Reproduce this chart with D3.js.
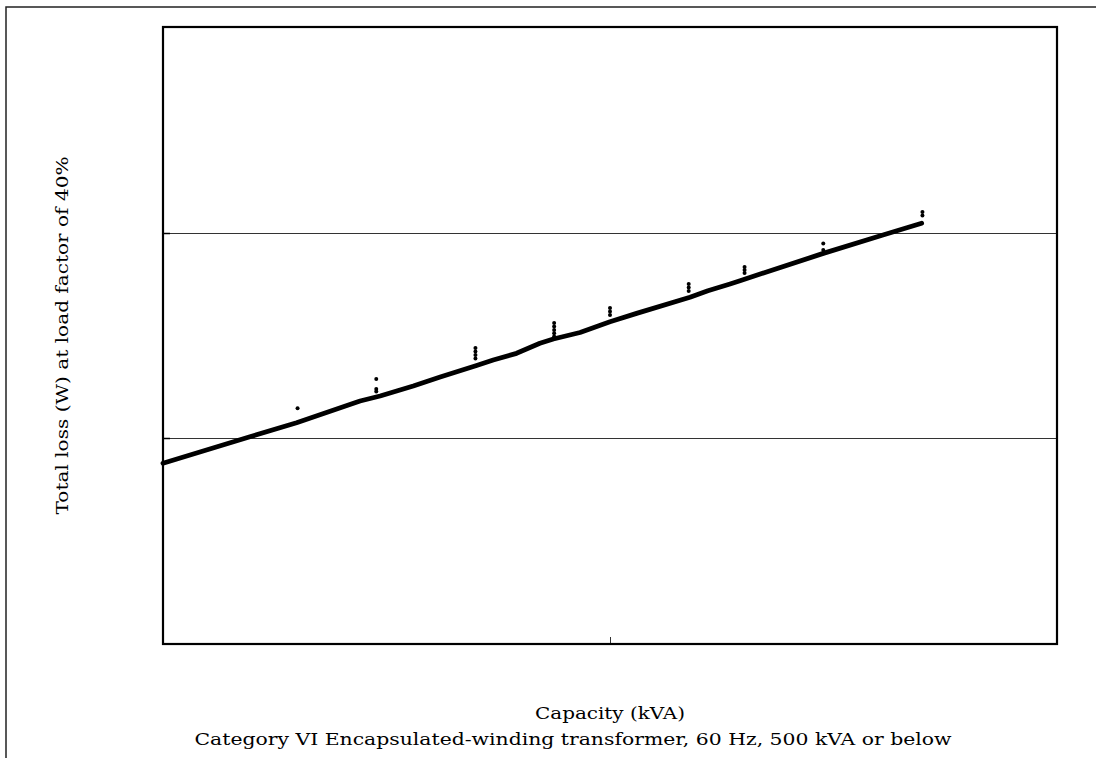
<!DOCTYPE html>
<html>
<head>
<meta charset="utf-8">
<script src="https://cdn.jsdelivr.net/npm/d3@7"></script>
<style>
  html, body { margin: 0; padding: 0; background: #fff; }
  svg { display: block; }
</style>
</head>
<body>
<svg id="chart" width="1096" height="758"></svg>
<script>
// Standard (target) total loss curve, capacity in kVA vs loss in W
const lineKva  = [10, 15.65, 19.9, 27.6, 30.6, 36.3, 41.7, 50.3, 54.8, 61.8, 69.7, 74.7, 85.7, 100, 114.7, 151, 165.6, 185.6, 195.4, 300, 408, 498];
const lineLoss = [75.6, 101.8, 119.1, 151.9, 160.6, 179.7, 198.7, 226, 240.3, 259, 289.7, 304, 327, 369, 405, 485, 522, 563, 584, 793, 974, 1111];

// Measured products at each rated capacity
const dotKva  = [20, 30, 30, 30, 50, 50, 50, 50, 75, 75, 75, 75, 75, 100, 100, 100, 150, 150, 150, 200, 200, 200, 300, 300, 500, 500];
const dotLoss = [140, 194.3, 173.7, 169, 275, 264.4, 254.2, 244.4, 363.7, 349.8, 336.2, 324, 312.6, 430, 413.7, 397.9, 563, 541, 520, 681, 658, 637, 885.5, 823, 1260, 1211];

// Axis ticks (unlabelled)
const xTicks = [100];
const yTicks = [100, 1000];

const xTitle = "Capacity (kVA)";
const yTitle = "Total loss (W) at load factor of 40%";
const subTitle = "Category VI Encapsulated-winding transformer, 60 Hz, 500 kVA or below";

const FONT = "DejaVu Serif";

const svg = d3.select("#chart");
const plot = { left: 163, top: 27, right: 1057, bottom: 644 };

const x = d3.scaleLog().domain([10, 1000]).range([plot.left, plot.right]);
const y = d3.scaleLog().domain([10, 10000]).range([plot.bottom, plot.top]);

// outer border
svg.append("path")
  .attr("d", `M6,760 L6,7 L1100,7`)
  .attr("fill", "none").attr("stroke", "#222").attr("stroke-width", 1.5);

// horizontal gridlines
svg.append("g").selectAll("line").data(yTicks).join("line")
  .attr("x1", plot.left).attr("x2", plot.right)
  .attr("y1", d => Math.round(y(d)) + 0.5).attr("y2", d => Math.round(y(d)) + 0.5)
  .attr("stroke", "#333").attr("stroke-width", 1);

// y ticks (short marks on the left edge)
svg.append("g").selectAll("line").data(yTicks).join("line")
  .attr("x1", plot.left).attr("x2", plot.left + 7)
  .attr("y1", d => Math.round(y(d)) + 0.5).attr("y2", d => Math.round(y(d)) + 0.5)
  .attr("stroke", "#000").attr("stroke-width", 1.5);

// x ticks
svg.append("g").selectAll("line").data(xTicks).join("line")
  .attr("x1", d => Math.round(x(d)) + 0.5).attr("x2", d => Math.round(x(d)) + 0.5)
  .attr("y1", plot.bottom).attr("y2", plot.bottom - 7)
  .attr("stroke", "#333").attr("stroke-width", 1);

// plot frame
svg.append("rect")
  .attr("x", plot.left).attr("y", plot.top)
  .attr("width", plot.right - plot.left).attr("height", plot.bottom - plot.top)
  .attr("fill", "none").attr("stroke", "#000").attr("stroke-width", 2.2);

// standard curve
const pts = lineKva.map((k, i) => [k, lineLoss[i]]);
svg.append("path")
  .datum(pts)
  .attr("d", d3.line().x(d => x(d[0])).y(d => y(d[1])))
  .attr("fill", "none").attr("stroke", "#000")
  .attr("stroke-width", 4.8).attr("stroke-linecap", "round").attr("stroke-linejoin", "round");

// measured product points
svg.append("g").selectAll("circle").data(dotKva.map((k, i) => [k, dotLoss[i]])).join("circle")
  .attr("cx", d => x(d[0])).attr("cy", d => y(d[1])).attr("r", 2)
  .attr("fill", "#000");

// axis titles
svg.append("text")
  .attr("transform", `translate(68,${(plot.top + plot.bottom) / 2}) rotate(-90)`)
  .attr("text-anchor", "middle").attr("font-size", 17)
  .style("font-family", FONT).attr("fill", "#000")
  .attr("textLength", 358).attr("lengthAdjust", "spacingAndGlyphs")
  .text(yTitle);

svg.append("text")
  .attr("x", (plot.left + plot.right) / 2).attr("y", 719)
  .attr("text-anchor", "middle").attr("font-size", 17)
  .style("font-family", FONT).attr("fill", "#000")
  .attr("textLength", 150).attr("lengthAdjust", "spacingAndGlyphs")
  .text(xTitle);

svg.append("text")
  .attr("x", 573).attr("y", 745)
  .attr("text-anchor", "middle").attr("font-size", 17)
  .style("font-family", FONT).attr("fill", "#000")
  .attr("textLength", 757).attr("lengthAdjust", "spacingAndGlyphs")
  .text(subTitle);
</script>
</body>
</html>
